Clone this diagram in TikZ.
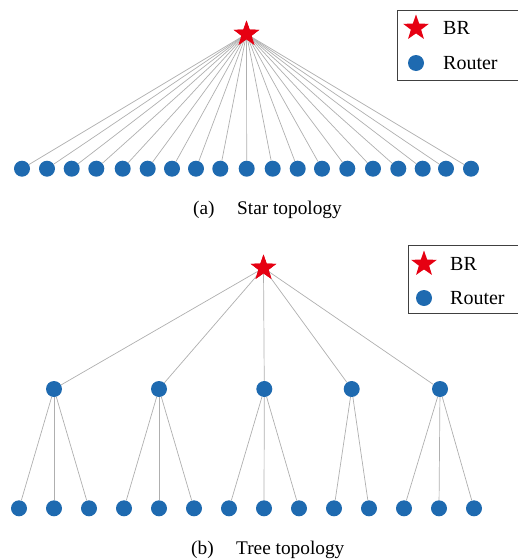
\documentclass[tikz,border=0pt]{standalone}
\usepackage{fontspec}
\setmainfont{Liberation Serif}
\usetikzlibrary{shapes.geometric}
\definecolor{rblue}{RGB}{30,106,176}
\definecolor{bred}{RGB}{230,0,18}
\definecolor{lgray}{RGB}{175,175,175}
\tikzset{
  rnode/.style={circle,fill=rblue,inner sep=0pt,minimum size=16pt},
  brnode/.style={star,star points=5,star point ratio=2.5,fill=bred,inner sep=0pt,minimum size=27pt},
  link/.style={draw=lgray,line width=0.7pt},
  legbox/.style={draw=black!75,line width=0.9pt},
  legtxt/.style={anchor=west,font=\fontsize{20}{22}\selectfont,inner sep=0pt},
  captxt/.style={anchor=west,font=\fontsize{19.3}{22}\selectfont,inner sep=0pt}
}
\begin{document}
\begin{tikzpicture}[x=1pt,y=-1pt]
\useasboundingbox (0,0) rectangle (518,560);
% ---------- (a) star topology ----------
\node[brnode] (sbr) at (246.5,34) {};
\foreach \i/\x in {1/22,2/47,3/71.7,4/96.3,5/122.7,6/147.7,7/172,8/196,9/220.3,10/246.7,11/272.7,12/297.7,13/322,14/347.3,15/373,16/398.3,17/422.7,18/446,19/471}{
  \node[rnode] (a\i) at (\x,168.7) {};
}
\foreach \i in {1,...,19}{
  \draw[link] (sbr.center) -- (a\i);
}
\node[brnode] at (sbr.center) {};
\node[captxt] (capa1) at (193,210) {(a)};
\node[captxt] (capa2) at (237,210) {Star topology};
% legend a
\node[legbox,minimum width=121pt,minimum height=70pt,anchor=north west,inner sep=0pt] (lega) at (397,10) {};
\node[brnode] (legastar) at (416,28) {};
\node[legtxt] (legabr) at (443,28) {BR};
\node[rnode] (legarouter) at (416,63) {};
\node[legtxt] (legart) at (443,63) {Router};
% ---------- (b) tree topology ----------
\node[brnode] (tbr) at (263.5,268) {};
\foreach \i/\x in {1/54,2/159,3/264.3,4/351.7,5/440}{
  \node[rnode] (m\i) at (\x,389) {};
}
\foreach \i/\x in {1/19,2/54,3/89,4/124,5/159,6/194,7/229,8/264,9/299,10/334,11/369,12/404,13/439,14/474}{
  \node[rnode] (l\i) at (\x,508.3) {};
}
\foreach \i in {1,...,5}{
  \draw[link] (tbr.center) -- (m\i);
}
\foreach \p/\c in {1/1,1/2,1/3,2/4,2/5,2/6,3/7,3/8,3/9,4/10,4/11,5/12,5/13,5/14}{
  \draw[link] (m\p) -- (l\c);
}
\node[brnode] at (tbr.center) {};
\node[captxt] (capb1) at (191,550) {(b)};
\node[captxt] (capb2) at (236,550) {Tree topology};
% legend b
\node[legbox,minimum width=115pt,minimum height=68pt,anchor=north west,inner sep=0pt] (legb) at (408,245) {};
\node[brnode] (legbstar) at (424,264) {};
\node[legtxt] (legbbr) at (450,264) {BR};
\node[rnode] (legbrouter) at (424,298) {};
\node[legtxt] (legbrt) at (450,298) {Router};
\end{tikzpicture}
\end{document}
